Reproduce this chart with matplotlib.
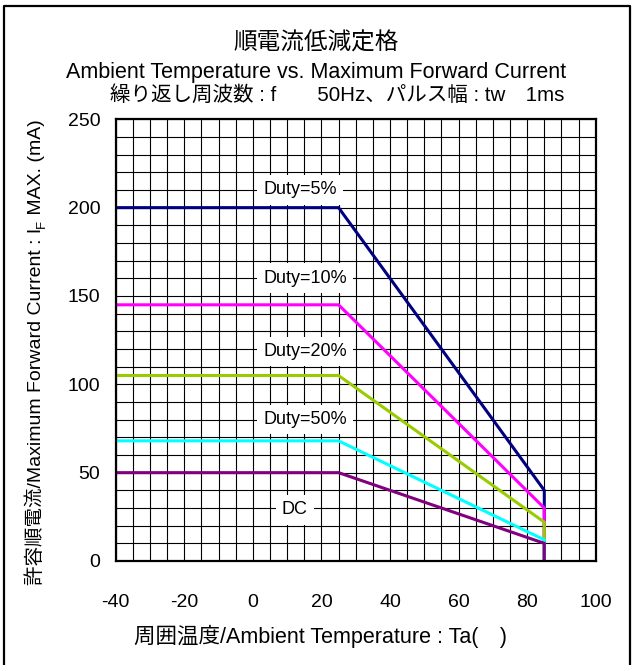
import matplotlib
matplotlib.use("Agg")
import matplotlib.pyplot as plt
from matplotlib import font_manager
from matplotlib.lines import Line2D
from matplotlib.transforms import IdentityTransform

names = {f.name for f in font_manager.fontManager.ttflist}
LATIN = "Liberation Sans Narrow" if "Liberation Sans Narrow" in names else "Liberation Sans"
FONTS = [LATIN, "Noto Sans CJK JP", "DejaVu Sans"]
plt.rcParams["font.family"] = FONTS
plt.rcParams["axes.unicode_minus"] = False

# Derating curves: flat up to the knee, linear down to 85 C, then drop to 0
temps = [-40, 25, 85, 85]
duty_labels = ["Duty=5%", "Duty=10%", "Duty=20%", "Duty=50%", "DC"]
flat_current = [200, 145, 105, 68, 50]
end_current = [40, 30, 22, 12, 10]
colors = ["#000080", "#FF00FF", "#99CC00", "#00FFFF", "#800080"]
label_pos = [(3, 210), (3, 160), (3, 118.5), (3, 80), (8.5, 29)]

x_ticks = [-40, -20, 0, 20, 40, 60, 80, 100]
y_ticks = [0, 50, 100, 150, 200, 250]

W, H = 633, 665
fig = plt.figure(figsize=(W / 100, H / 100), dpi=100)
ax = fig.add_axes([0.1828, 0.1564, 0.7583, 0.6642])

ax.set_xlim(-40, 100)
ax.set_ylim(0, 250)
ax.set_xticks(x_ticks)
ax.set_yticks(y_ticks)
ax.set_xticks(range(-40, 101, 5), minor=True)
ax.set_yticks(range(0, 251, 10), minor=True)
ax.grid(which="both", color="black", linewidth=0.8)
ax.set_axisbelow(True)
ax.tick_params(which="both", length=0, labelsize=14)
ax.tick_params(axis="x", pad=24)
ax.tick_params(axis="y", pad=11)
for s in ax.spines.values():
    s.set_linewidth(1.6)
    s.set_zorder(5)

for lab, f, e, c in zip(duty_labels, flat_current, end_current, colors):
    ax.plot(temps, [f, f, e, 0], color=c, linewidth=2.2, solid_joinstyle="miter", zorder=3)

for lab, (tx, ty) in zip(duty_labels, label_pos):
    ax.text(tx, ty, lab, fontsize=13, ha="left", va="center", zorder=4,
            bbox=dict(facecolor="white", edgecolor="none", pad=4.5))

fig.text(0.5, 0.934, "順電流低減定格", ha="center", va="center", fontsize=17)
fig.text(0.4995, 0.891, "Ambient Temperature vs. Maximum Forward Current",
         ha="center", va="center", fontsize=15.5)
fig.text(0.532, 0.857, "繰り返し周波数 : f　　50Hz、パルス幅 : tw　1ms",
         ha="center", va="center", fontsize=14.8)
fig.text(321 / W, 1 - 636 / H, "周囲温度/Ambient Temperature : Ta(　)",
         ha="center", va="center", fontsize=15.5)

# y label built from pieces so the CJK font fallback still works with the subscript F
px = IdentityTransform()
ypieces = [("許容順電流/Maximum Forward Current : I", 14, 0),
           ("F", 9.5, 4),
           (" MAX. (mA)", 14, 0)]
base_x = 41
texts = [fig.text(base_x + dx, 0, s, fontsize=fs, rotation=90, rotation_mode="anchor",
                  ha="left", va="baseline", transform=px)
         for s, fs, dx in ypieces]
fig.canvas.draw()
r = fig.canvas.get_renderer()
lengths = [t.get_window_extent(r).height for t in texts]
y = (H - 352) - sum(lengths) / 2
for t, L, (s, fs, dx) in zip(texts, lengths, ypieces):
    t.set_position((base_x + dx, y))
    y += L

# outer frame (left, top, right)
frame = Line2D([4 / W, 4 / W, 630 / W, 630 / W], [0, 1 - 6 / H, 1 - 6 / H, 0],
               transform=fig.transFigure, color="black", linewidth=1.6)
fig.add_artist(frame)

fig.savefig("out.png", dpi=100)
